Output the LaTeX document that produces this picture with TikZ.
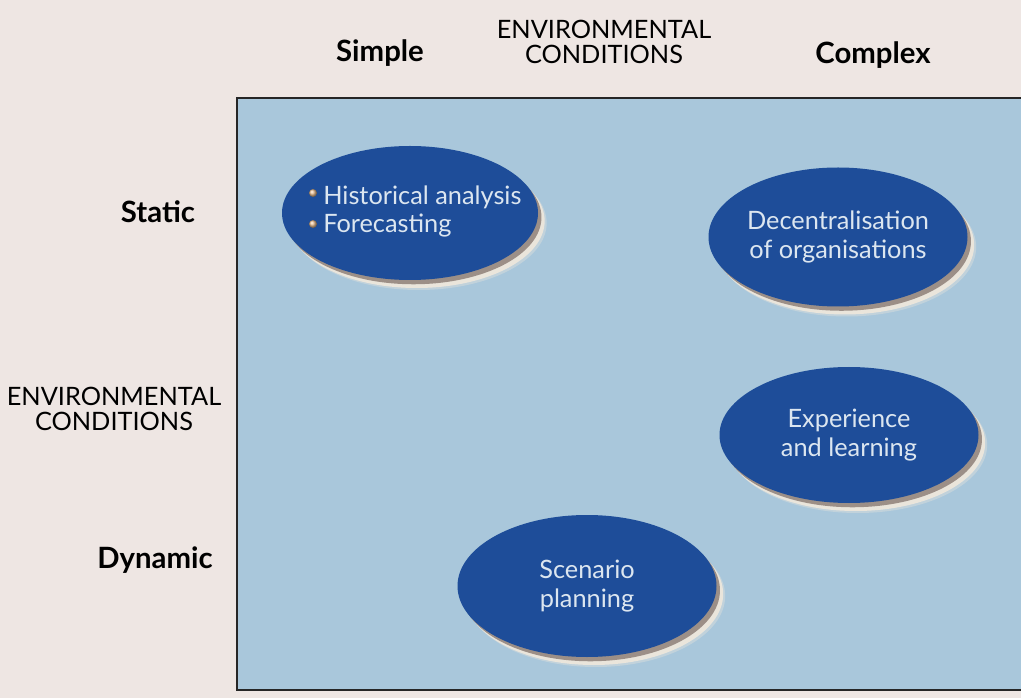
\documentclass[tikz,border=0pt]{standalone}
\usepackage{fontspec}
\setmainfont{Lato}
\usetikzlibrary{shapes.geometric,shadows}

\definecolor{paper}{HTML}{EEE6E3}
\definecolor{panel}{HTML}{A9C7DB}
\definecolor{ovalblue}{HTML}{1E4D99}
\definecolor{ovaltext}{HTML}{DCE6F0}
\definecolor{shadowgray}{HTML}{8F8079}
\definecolor{rim}{HTML}{EFE8DC}
\definecolor{frame}{HTML}{262626}

% one pixel of the layout grid
\newlength{\pxu}
\setlength{\pxu}{0.75pt}

\tikzset{
  oval/.style={ellipse, inner sep=0pt, minimum width=259\pxu, minimum height=139\pxu,
    fill=ovalblue, text=ovaltext, align=center,
    font=\fontsize{19}{22}\selectfont,
    general shadow={shadow xshift=6.5pt, shadow yshift=-7.5pt, fill=rim, opacity=.35},
    general shadow={shadow xshift=5pt, shadow yshift=-6pt, fill=rim, opacity=.9},
    general shadow={shadow xshift=2.6pt, shadow yshift=-3.2pt, fill=shadowgray, opacity=.85}},
  ovalline/.style={anchor=west, text=ovaltext, font=\fontsize{19}{22}\selectfont, inner sep=0pt},
  axislabel/.style={font=\fontsize{22}{22}\selectfont\bfseries, text=black},
  axistitle/.style={font=\fontsize{19}{19}\selectfont, align=center, text=black},
  bulletball/.style={ball color=brown!60!orange!50!white},
}

\begin{document}
\begin{tikzpicture}[x=0.75pt, y=-0.75pt]
  \useasboundingbox (0,0) rectangle (1021,698);
  \clip (0,0) rectangle (1021,698);
  \fill[paper] (0,0) rectangle (1021,698);

  % the panel
  \draw[frame, line width=1.6pt, fill=panel] (237,98) rectangle (1040,690);

  % headings
  \node[axistitle] (toptitle) at (604,42) {ENVIRONMENTAL\\CONDITIONS};
  \node[axislabel] (simple) at (380,53) {Simple};
  \node[axislabel] (complex) at (873,55) {Complex};
  \node[axistitle] (sidetitle) at (114,409) {ENVIRONMENTAL\\CONDITIONS};
  \node[axislabel] (static) at (158,212) {Static};
  \node[axislabel] (dynamic) at (155,560) {Dynamic};

  % ovals
  \node[oval, minimum width=256\pxu, minimum height=134\pxu] (hist) at (410,213) {};
  \node[oval] (decent) at (838,237) {Decentralisation\\of organisations};
  \node[oval, minimum height=136\pxu] (exper) at (849,435) {Experience\\and learning};
  \node[oval, minimum height=142\pxu] (scen) at (587,586) {Scenario\\planning};

  % bulleted list inside the first oval
  \node[ovalline] (histA) at (323,197) {Historical analysis};
  \node[ovalline] (histB) at (323,226) {Forecasting};
  \shade[bulletball] (313,193) circle[radius=4];
  \shade[bulletball] (313,224) circle[radius=4];
\end{tikzpicture}
\end{document}
